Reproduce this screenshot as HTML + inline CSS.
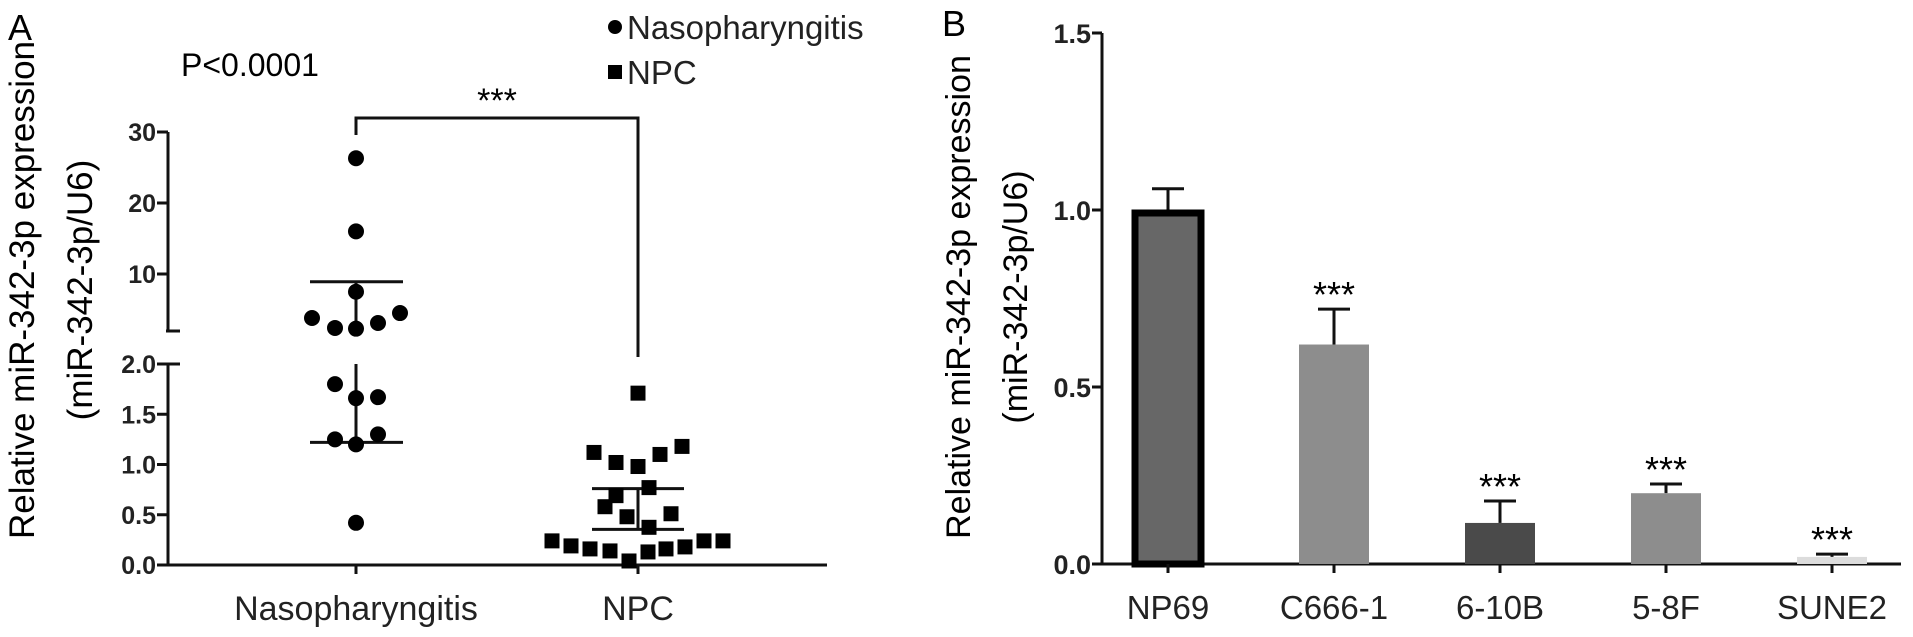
<!DOCTYPE html>
<html><head><meta charset="utf-8"><style>
html,body{margin:0;padding:0;background:#fff;}
svg{display:block;font-family:"Liberation Sans",sans-serif;}
</style></head><body>
<svg id="fig" width="1913" height="637" viewBox="0 0 1913 637">
<g id="pa"></g>
<g id="pb"></g>
</svg>
<script>
// ---- Panel A data ----
const groupsA = ["Nasopharyngitis", "NPC"];
const nasoValues = [26.3, 16, 7.5, 3.8, 2.4, 2.3, 3.1, 4.5, 1.8, 1.66, 1.67, 1.25, 1.2, 1.3, 0.42];
const nasoJitter = [0, 0, 0, -44, -21, 0, 22, 44, -21, 0, 22, -21, 0, 22, 0];
const npcValues = [1.71, 1.12, 1.02, 0.98, 1.10, 1.18, 0.77, 0.69, 0.58, 0.48, 0.51, 0.375, 0.24, 0.19, 0.16, 0.14, 0.04, 0.13, 0.16, 0.18, 0.24, 0.24];
const npcJitter = [0, -44, -22, 0, 22, 44, 11, -22, -33, -11, 33, 11, -86, -67, -48, -28, -9, 10, 28, 47, 66, 85];
const nasoLines = [8.9, 1.22];
const npcLines = [0.76, 0.355];
const upperTicks = [30, 20, 10];
const lowerTicks = [2.0, 1.5, 1.0, 0.5, 0.0];
// ---- Panel B data ----
const categoriesB = ["NP69", "C666-1", "6-10B", "5-8F", "SUNE2"];
const valuesB = [1.0, 0.62, 0.116, 0.2, 0.02];
const errorsB = [0.06, 0.10, 0.062, 0.026, 0.008];
const ticksB = [0.0, 0.5, 1.0, 1.5];
const fillsB = ["#676767", "#8d8d8d", "#4a4a4a", "#8d8d8d", "#dcdcdc"];

const NS = "http://www.w3.org/2000/svg";
function mk(parent, tag, attrs, text) {
  const e = document.createElementNS(NS, tag);
  for (const k in attrs) e.setAttribute(k, attrs[k]);
  if (text !== undefined) e.textContent = text;
  parent.appendChild(e);
  return e;
}
const pa = document.getElementById('pa');
const pb = document.getElementById('pb');

// ---- Panel A scales ----
const axA = 168;
function yUp(v) { return 132 + (30 - v) * 7.1; }
function yLow(v) { return 565 - v * 100.5; }
function yA(v) { return v > 2 ? yUp(v) : yLow(v); }
const xA = i => [356, 638][i];

let e;
e = mk(pa, 'text', {x: 8, y: 40, 'font-size': 36}, 'A');
 
e = mk(pa, 'text', {x: 0, y: 0, 'font-size': 35, 'text-anchor': 'middle', transform: 'translate(34,290) rotate(-90)'}, 'Relative miR-342-3p expression');
 
e = mk(pa, 'text', {x: 0, y: 0, 'font-size': 35, 'text-anchor': 'middle', transform: 'translate(92,290) rotate(-90)'}, '(miR-342-3p/U6)');
 
e = mk(pa, 'text', {x: 181, y: 76, 'font-size': 32}, 'P<0.0001');
 

// axes
e = mk(pa, 'line', {x1: axA, y1: yUp(30), x2: axA, y2: 331, stroke: '#111', 'stroke-width': 3});
 
mk(pa, 'line', {x1: axA - 2, y1: 331, x2: axA + 12, y2: 331, stroke: '#111', 'stroke-width': 3});
e = mk(pa, 'line', {x1: axA, y1: yLow(2), x2: axA, y2: yLow(0), stroke: '#111', 'stroke-width': 3});
 
mk(pa, 'line', {x1: axA, y1: yLow(2), x2: axA + 12, y2: yLow(2), stroke: '#111', 'stroke-width': 3});
e = mk(pa, 'line', {x1: axA - 1, y1: yLow(0), x2: 827, y2: yLow(0), stroke: '#111', 'stroke-width': 3});
 
upperTicks.forEach(t => {
  mk(pa, 'line', {x1: axA - 11, y1: yUp(t), x2: axA, y2: yUp(t), stroke: '#111', 'stroke-width': 3});
  const lbl = mk(pa, 'text', {x: axA - 12, y: yUp(t) + 9, 'font-size': 25, 'font-weight': 'bold', 'text-anchor': 'end', fill: '#222'}, String(t));
  
  
});
lowerTicks.forEach(t => {
  mk(pa, 'line', {x1: axA - 11, y1: yLow(t), x2: axA, y2: yLow(t), stroke: '#111', 'stroke-width': 3});
  const lbl = mk(pa, 'text', {x: axA - 12, y: yLow(t) + 9, 'font-size': 25, 'font-weight': 'bold', 'text-anchor': 'end', fill: '#222'}, t.toFixed(1));
  
  
});
groupsA.forEach((g, i) => {
  mk(pa, 'line', {x1: xA(i), y1: yLow(0), x2: xA(i), y2: yLow(0) + 9, stroke: '#111', 'stroke-width': 3});
  const lbl = mk(pa, 'text', {x: xA(i), y: 620, 'font-size': 34, 'text-anchor': 'middle', fill: '#222'}, g);
  
  
});
// bracket
e = mk(pa, 'path', {d: `M${xA(0)},135 V118 H${xA(1)} V357`, fill: 'none', stroke: '#111', 'stroke-width': 3});
 
e = mk(pa, 'text', {x: 497, y: 112, 'font-size': 34, 'text-anchor': 'middle'}, '***');
 

nasoLines.forEach(v => {
  const l = mk(pa, 'line', {x1: xA(0) - 46, y1: yA(v), x2: xA(0) + 47, y2: yA(v), stroke: '#111', 'stroke-width': 3});
  
  
});
mk(pa, 'line', {x1: xA(0), y1: yA(nasoLines[0]), x2: xA(0), y2: 331, stroke: '#111', 'stroke-width': 3});
mk(pa, 'line', {x1: xA(0), y1: yLow(2), x2: xA(0), y2: yA(nasoLines[1]), stroke: '#111', 'stroke-width': 3});
npcLines.forEach(v => {
  const l = mk(pa, 'line', {x1: xA(1) - 46, y1: yLow(v), x2: xA(1) + 46, y2: yLow(v), stroke: '#111', 'stroke-width': 3});
  
  
});
mk(pa, 'line', {x1: xA(1), y1: yLow(npcLines[0]), x2: xA(1), y2: yLow(npcLines[1]), stroke: '#111', 'stroke-width': 3});

nasoValues.forEach((v, i) => {
  const c = mk(pa, 'circle', {cx: xA(0) + nasoJitter[i], cy: yA(v), r: 8, fill: '#000'});
  
  
});
npcValues.forEach((v, i) => {
  const r = mk(pa, 'rect', {x: xA(1) + npcJitter[i] - 7.5, y: yLow(v) - 7.5, width: 15, height: 15, fill: '#000'});
  
  
});
// legend
e = mk(pa, 'circle', {cx: 615, cy: 27, r: 7, fill: '#000'});
 
e = mk(pa, 'text', {x: 627, y: 39, 'font-size': 33, fill: '#222'}, 'Nasopharyngitis');
 
e = mk(pa, 'rect', {x: 608, y: 65, width: 14, height: 14, fill: '#000'});
 
e = mk(pa, 'text', {x: 627, y: 84, 'font-size': 33, fill: '#222'}, 'NPC');
 

// ---- Panel B ----
const axB = 1102, y0B = 564, pxB = 354;
const yB = v => y0B - v * pxB;
const xB = i => 1168 + i * 166;
e = mk(pb, 'text', {x: 942, y: 36, 'font-size': 36}, 'B');
 
e = mk(pb, 'text', {x: 0, y: 0, 'font-size': 34, 'text-anchor': 'middle', transform: 'translate(970,297) rotate(-90)'}, 'Relative miR-342-3p expression');
 
e = mk(pb, 'text', {x: 0, y: 0, 'font-size': 34, 'text-anchor': 'middle', transform: 'translate(1027,297) rotate(-90)'}, '(miR-342-3p/U6)');
 
e = mk(pb, 'line', {x1: axB, y1: yB(1.5), x2: axB, y2: y0B, stroke: '#111', 'stroke-width': 3});
 
e = mk(pb, 'line', {x1: axB - 1, y1: y0B, x2: 1901, y2: y0B, stroke: '#111', 'stroke-width': 3});
 
ticksB.forEach(t => {
  mk(pb, 'line', {x1: axB - 10, y1: yB(t), x2: axB, y2: yB(t), stroke: '#111', 'stroke-width': 3});
  const lbl = mk(pb, 'text', {x: axB - 11, y: yB(t) + 10, 'font-size': 27, 'font-weight': 'bold', 'text-anchor': 'end', fill: '#222'}, t.toFixed(1));
  
  
});
categoriesB.forEach((c, i) => {
  const x = xB(i), top = yB(valuesB[i]), et = yB(valuesB[i] + errorsB[i]);
  mk(pb, 'line', {x1: x, y1: et, x2: x, y2: top, stroke: '#111', 'stroke-width': 3});
  mk(pb, 'line', {x1: x - 16, y1: et, x2: x + 16, y2: et, stroke: '#111', 'stroke-width': 3});
  let bar;
  if (i === 0) {
    bar = mk(pb, 'rect', {x: x - 33, y: top + 3, width: 66, height: y0B - top - 3, fill: fillsB[i], stroke: '#000', 'stroke-width': 7});
  } else {
    bar = mk(pb, 'rect', {x: x - 35, y: top, width: 70, height: y0B - top, fill: fillsB[i]});
  }
  
  
  if (i > 0) {
    const st = mk(pb, 'text', {x: x, y: et - 2, 'font-size': 36, 'text-anchor': 'middle'}, '***');
    
    
  }
  mk(pb, 'line', {x1: x, y1: y0B, x2: x, y2: y0B + 9, stroke: '#111', 'stroke-width': 3});
  const lbl = mk(pb, 'text', {x: x, y: 619, 'font-size': 33, 'text-anchor': 'middle', fill: '#222'}, c);
  
  
});
</script>
</body></html>
